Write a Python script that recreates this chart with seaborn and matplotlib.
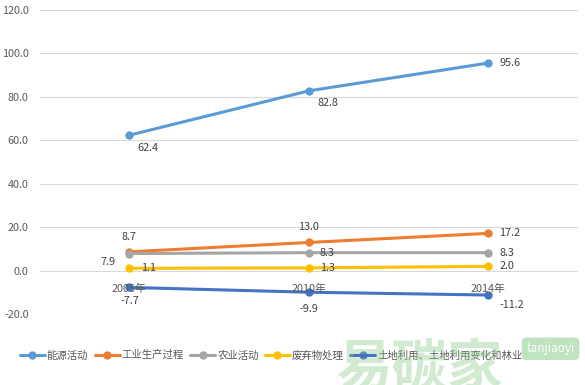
import pandas as pd
import numpy as np
import matplotlib.pyplot as plt
import seaborn as sns

# data
years = ['2005年', '2010年', '2014年']
series_names = ['能源活动', '工业生产过程', '农业活动', '废弃物处理', '土地利用、土地利用变化和林业']
energy = [62.4, 82.8, 95.6]
industry = [8.7, 13.0, 17.2]
agriculture = [7.9, 8.3, 8.3]
waste = [1.1, 1.3, 2.0]
landuse = [-7.7, -9.9, -11.2]
y_ticks = [-20, 0, 20, 40, 60, 80, 100, 120]

colors = ['#5B9BD5', '#ED7D31', '#A5A5A5', '#FFC000', '#4472C4']

# label offsets (points) per series per point
label_offsets = [
    [(6, -9), (6, -9), (8, 0)],
    [(0, 11), (0, 11), (8, 0)],
    [(-10, -6), (8, 0), (8, 0)],
    [(8, 0), (8, 0), (8, 0)],
    [(0, -10), (0, -12), (8, -7)],
]

values = [energy, industry, agriculture, waste, landuse]
rows = []
for name, vals in zip(series_names, values):
    for i, v in enumerate(vals):
        rows.append({'pos': i, 'year': years[i], 'series': name, 'value': v})
df = pd.DataFrame(rows)

sns.set_theme(style='white')
plt.rcParams['font.family'] = ['Noto Sans CJK SC', 'DejaVu Sans']

fig = plt.figure(figsize=(5.85, 3.85), dpi=100)
ax = fig.add_axes([0.068, 0.184, 0.92, 0.79])

sns.lineplot(data=df, x='pos', y='value', hue='series', hue_order=series_names,
             palette=colors, marker='o', markersize=6, markeredgewidth=0,
             linewidth=2.2, ax=ax)

ax.set_xlim(-0.5, 2.5)
ax.set_ylim(-20, 120)
ax.set_yticks(y_ticks)
ax.set_yticklabels([f'{t:.1f}' for t in y_ticks], fontsize=7.8, color='#595959')
ax.set_xticks([])
ax.set_xlabel('')
ax.set_ylabel('')
ax.tick_params(axis='y', length=0, pad=8)
ax.grid(axis='y', color='#D9D9D9', linewidth=0.8)
ax.set_axisbelow(True)
for s in ax.spines.values():
    s.set_visible(False)

# category labels sit under the zero line
for i, yr in enumerate(years):
    ax.annotate(yr, (i, 0), xytext=(0, -13), textcoords='offset points',
                ha='center', va='center', fontsize=7.8, color='#595959')

# data labels
for vals, offs in zip(values, label_offsets):
    for i, (v, off) in enumerate(zip(vals, offs)):
        if off[0] > 0:
            ha = 'left'
        elif off[0] < 0:
            ha = 'right'
        else:
            ha = 'center'
        ax.annotate(f'{v:.1f}', (i, v), xytext=off, textcoords='offset points',
                    ha=ha, va='center', fontsize=7.8, color='#404040')

handles, labels = ax.get_legend_handles_labels()
ax.legend(handles, labels, loc='center left', bbox_to_anchor=(-0.045, -0.135),
          ncol=5, frameon=False, fontsize=7.5, handlelength=2.4, handletextpad=0.2,
          columnspacing=0.6, labelcolor='#595959', borderaxespad=0)

# watermark
fig.text(0.575, 0.0, '易碳家', fontsize=40, color='#8CCB8C', alpha=0.4,
         fontweight='bold', zorder=0)
fig.text(0.9, 0.085, 'tanjiaoyi', fontsize=8.5, color='white', style='italic',
         zorder=0,
         bbox=dict(boxstyle='round,pad=0.4', fc='#8CCB8C', ec='none', alpha=0.55))

plt.savefig('out.png', dpi=100)
plt.close()
